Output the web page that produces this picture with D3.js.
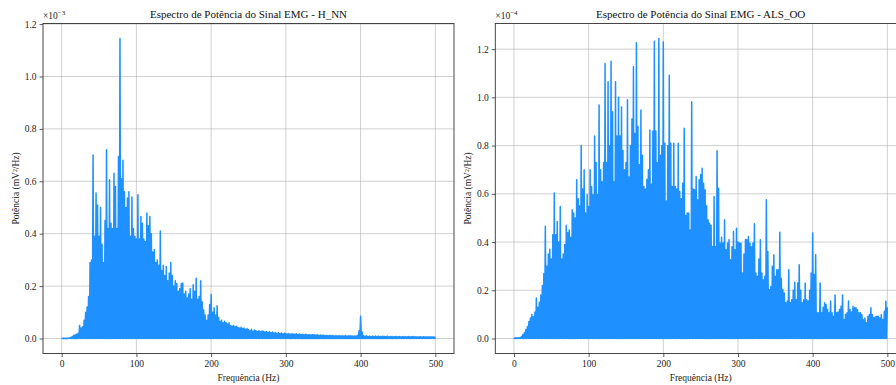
<!DOCTYPE html>
<html><head><meta charset="utf-8">
<script src="https://cdn.jsdelivr.net/npm/d3@7/dist/d3.min.js"></script>
<style>
body{margin:0;background:#fff;}
svg{display:block;font-family:'Liberation Serif','Times New Roman',serif;}
</style></head><body>
<svg id="chart" width="896" height="385"></svg>
<script>
// ---------- data ----------
const xTicks = [0, 100, 200, 300, 400, 500];
const yTicks = [0.0, 0.2, 0.4, 0.6, 0.8, 1.0, 1.2];
const titles = ["Espectro de Potência do Sinal EMG - H_NN", "Espectro de Potência do Sinal EMG - ALS_OO"];
const offsetExponents = ["−3", "−4"];
const xLabel = "Frequência (Hz)";
const yLabel = "Potência (mV²/Hz)";
const freqMax = 500;

// H_NN spectrum peaks, units of 1e-3 mV²/Hz, sampled every 2 Hz from 0 to 500 Hz
const powerHNN = [
  0.001,0.001,0.001,0.001,0.001,0.002,
  0.004,0.008,0.012,0.014,0.016,
  0.02,0.05,0.04,0.045,0.07,
  0.10,0.12,0.16,0.29,0.30,
  0.70,0.39,0.555,0.51,0.39,
  0.50,0.36,0.29,0.45,0.72,
  0.42,0.606,0.44,0.42,0.631,
  0.58,0.42,0.695,1.145,0.61,
  0.68,0.56,0.50,0.536,0.56,
  0.39,0.54,0.42,0.39,0.38,
  0.549,0.38,0.466,0.44,0.38,
  0.37,0.479,0.43,0.466,0.40,
  0.33,0.34,0.29,0.30,0.28,
  0.41,0.26,0.28,0.24,0.275,
  0.22,0.25,0.29,0.24,0.20,
  0.22,0.21,0.18,0.19,0.21,
  0.212,0.17,0.18,0.155,0.17,
  0.19,0.15,0.205,0.18,0.23,
  0.15,0.16,0.22,0.14,0.11,
  0.09,0.07,0.09,0.13,0.168,
  0.10,0.117,0.09,0.125,0.08,
  0.066,0.07,0.06,0.066,0.06,
  0.055,0.06,0.05,0.047,0.05,
  0.045,0.047,0.042,0.04,0.043,
  0.038,0.04,0.035,0.038,0.034,
  0.03,0.035,0.028,0.032,0.03,
  0.027,0.03,0.026,0.029,0.028,
  0.025,0.027,0.024,0.026,0.022,
  0.025,0.021,0.023,0.02,0.022,
  0.019,0.021,0.018,0.02,0.019,
  0.017,0.019,0.016,0.018,0.017,
  0.016,0.018,0.015,0.017,0.015,
  0.016,0.014,0.016,0.015,0.014,
  0.015,0.013,0.015,0.014,0.013,
  0.014,0.012,0.013,0.012,0.013,
  0.011,0.012,0.011,0.012,0.011,
  0.012,0.010,0.011,0.010,0.011,
  0.010,0.011,0.010,0.010,0.011,
  0.009,0.010,0.011,0.009,0.010,
  0.009,0.010,0.012,0.030,0.085,
  0.025,0.010,0.009,0.010,0.008,
  0.009,0.008,0.009,0.008,0.009,
  0.008,0.009,0.008,0.008,0.009,
  0.008,0.008,0.009,0.007,0.008,
  0.008,0.007,0.008,0.008,0.007,
  0.008,0.007,0.007,0.008,0.007,
  0.007,0.008,0.007,0.007,0.008,
  0.007,0.007,0.006,0.007,0.007,
  0.006,0.007,0.007,0.006,0.007,
  0.006,0.007,0.006,0.006,0.007
];

// ALS_OO spectrum peaks, units of 1e-4 mV²/Hz, sampled every 2 Hz from 0 to 500 Hz
const powerALS = [
  0.003,0.003,0.003,0.003,0.004,
  0.008,0.017,0.025,0.037,0.05,
  0.07,0.085,0.10,0.09,0.11,
  0.168,0.13,0.15,0.18,0.22,
  0.27,0.465,0.30,0.35,0.37,
  0.33,0.43,0.603,0.43,0.485,
  0.40,0.547,0.33,0.35,0.39,
  0.47,0.44,0.45,0.42,0.534,
  0.52,0.50,0.658,0.58,0.55,
  0.80,0.62,0.70,0.52,0.596,
  0.547,0.70,0.63,0.596,0.84,
  0.73,0.596,0.968,0.70,0.65,
  0.73,1.14,0.73,1.065,0.80,
  1.15,0.94,0.65,1.065,0.84,
  1.0,0.84,0.96,0.78,0.70,
  0.73,0.99,0.67,0.80,0.91,
  1.127,0.85,1.226,0.88,0.72,
  0.947,0.76,0.63,0.62,0.66,
  0.70,0.865,0.64,0.86,1.233,
  0.86,0.73,1.244,0.76,0.80,
  1.23,0.81,0.57,0.80,1.092,
  0.81,0.63,0.81,0.63,0.62,
  0.81,0.61,0.58,0.644,0.872,
  0.51,0.52,0.52,0.45,0.982,
  0.62,0.617,0.672,0.575,0.658,
  0.68,0.706,0.644,0.617,0.55,
  0.492,0.478,0.47,0.382,0.589,
  0.382,0.779,0.623,0.396,0.42,
  0.396,0.492,0.368,0.396,0.41,
  0.327,0.38,0.444,0.368,0.457,
  0.40,0.396,0.396,0.272,0.35,
  0.41,0.41,0.423,0.396,0.38,
  0.396,0.476,0.272,0.258,0.33,
  0.41,0.272,0.244,0.258,0.575,
  0.361,0.203,0.216,0.30,0.347,
  0.258,0.285,0.285,0.441,0.25,
  0.203,0.189,0.148,0.155,0.285,
  0.148,0.161,0.20,0.233,0.161,
  0.23,0.306,0.20,0.148,0.161,
  0.23,0.161,0.155,0.20,0.272,
  0.437,0.265,0.347,0.107,0.107,
  0.23,0.107,0.13,0.148,0.141,
  0.12,0.107,0.155,0.107,0.092,
  0.18,0.107,0.11,0.12,0.134,
  0.18,0.079,0.10,0.107,0.155,
  0.12,0.11,0.134,0.127,0.127,
  0.12,0.107,0.107,0.099,0.079,
  0.085,0.065,0.092,0.10,0.127,
  0.099,0.086,0.09,0.092,0.092,
  0.085,0.099,0.079,0.113,0.154,
  0.13
];
const troughLevel = 0;

// ---------- drawing ----------
const svg = d3.select("#chart");
const FONT = "'Liberation Serif','Times New Roman',serif";
const panels = [
  {left: 43, right: 454, values: powerHNN, title: titles[0], exp: offsetExponents[0]},
  {left: 495.3, right: 906, values: powerALS, title: titles[1], exp: offsetExponents[1]}
];
const yTop = 23.5, yBottom = 353.5;

panels.forEach(p => {
  const g = svg.append("g");
  const x = d3.scaleLinear().domain([-0.05 * freqMax, 1.05 * freqMax]).range([p.left, p.right]);
  const vmax = d3.max(p.values);
  const pad = 0.05 * vmax;
  const y = d3.scaleLinear().domain([-pad, vmax + pad]).range([yBottom, yTop]);

  // grid
  g.append("g").selectAll("line").data(xTicks).join("line")
    .attr("x1", d => x(d)).attr("x2", d => x(d)).attr("y1", yTop).attr("y2", yBottom)
    .attr("stroke", "#b0b0b0").attr("stroke-width", 0.8).attr("stroke-opacity", 0.75);
  g.append("g").selectAll("line").data(yTicks).join("line")
    .attr("x1", p.left).attr("x2", p.right).attr("y1", d => y(d)).attr("y2", d => y(d))
    .attr("stroke", "#b0b0b0").attr("stroke-width", 0.8).attr("stroke-opacity", 0.75);

  // spectrum
  const step = freqMax / (p.values.length - 1);
  const pts = [];
  p.values.forEach((v, i) => {
    const f = i * step;
    pts.push([f, v]);
    if (i < p.values.length - 1) pts.push([f + step / 2, troughLevel]);
  });
  const line = d3.line().x(d => x(d[0])).y(d => y(d[1]));
  g.append("path").attr("d", line(pts)).attr("fill", "none")
    .attr("stroke", "#1E90FF").attr("stroke-width", 1.5).attr("stroke-linejoin", "round");

  // axes
  const xAxis = d3.axisBottom(x).tickValues(xTicks).tickSize(3.5).tickPadding(3).tickFormat(d3.format("d"));
  const yAxis = d3.axisLeft(y).tickValues(yTicks).tickSize(3.5).tickPadding(3).tickFormat(d3.format(".1f"));
  const gx = g.append("g").attr("transform", `translate(0,${yBottom})`).call(xAxis);
  const gy = g.append("g").attr("transform", `translate(${p.left},0)`).call(yAxis);
  [gx, gy].forEach(a => {
    a.select(".domain").remove();
    a.selectAll(".tick line").attr("stroke", "#333").attr("stroke-width", 0.8);
    a.selectAll(".tick text").attr("font-family", FONT).attr("font-size", 9.5).attr("fill", "#222");
  });

  // frame
  g.append("rect").attr("x", p.left).attr("y", yTop).attr("width", p.right - p.left).attr("height", yBottom - yTop)
    .attr("fill", "none").attr("stroke", "#333").attr("stroke-width", 0.9);

  // title
  g.append("text").attr("x", (p.left + p.right) / 2).attr("y", 18)
    .attr("text-anchor", "middle").attr("font-family", FONT).attr("font-size", 11).attr("fill", "#111")
    .text(p.title);

  // offset text
  const ot = g.append("text").attr("x", p.left).attr("y", 19)
    .attr("font-family", FONT).attr("font-size", 9.5).attr("fill", "#222");
  ot.append("tspan").text("×10");
  ot.append("tspan").attr("dy", -4).attr("font-size", 7).text(p.exp);

  // axis labels
  g.append("text").attr("x", (p.left + p.right) / 2).attr("y", 381)
    .attr("text-anchor", "middle").attr("font-family", FONT).attr("font-size", 9.5).attr("fill", "#222")
    .text(xLabel);
  g.append("text").attr("transform", `translate(${p.left - 24},${(yTop + yBottom) / 2}) rotate(-90)`)
    .attr("text-anchor", "middle").attr("font-family", FONT).attr("font-size", 9.5).attr("fill", "#222")
    .text(yLabel);
});
</script>
</body></html>
